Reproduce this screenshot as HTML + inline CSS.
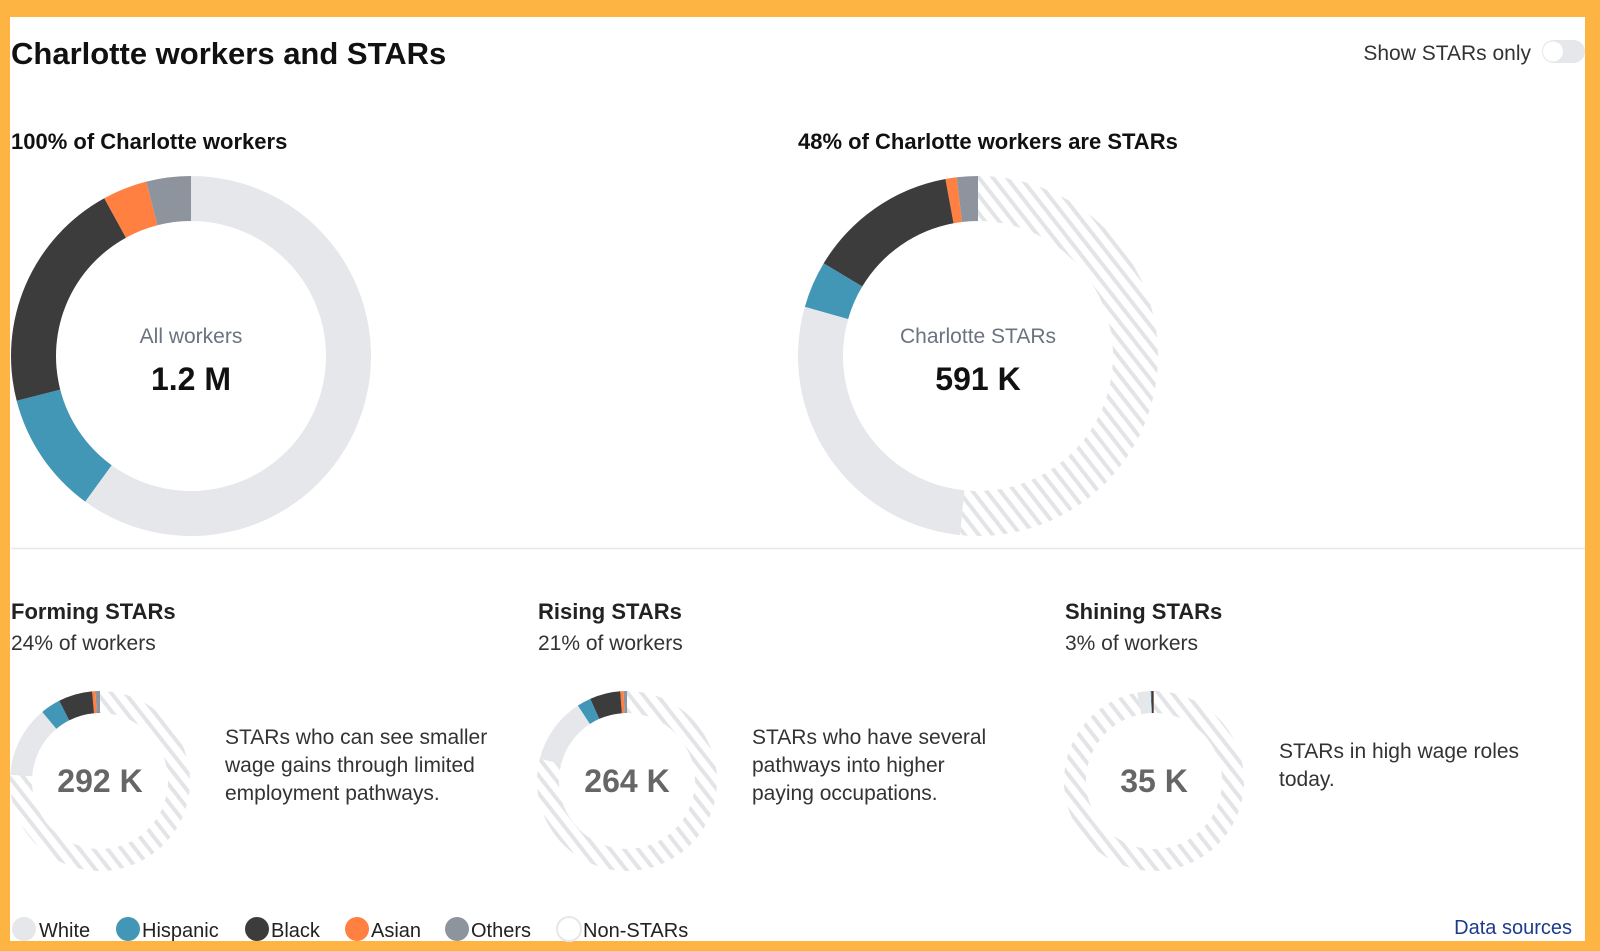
<!DOCTYPE html>
<html><head><meta charset="utf-8"><style>
html,body{margin:0;padding:0;width:1600px;height:951px;overflow:hidden;background:#fdb443;font-family:"Liberation Sans",sans-serif}
svg{display:block}
</style></head><body>
<svg id="c" width="1600" height="951" xmlns="http://www.w3.org/2000/svg">
<defs>
<pattern id="hatch" width="11" height="11" patternUnits="userSpaceOnUse" patternTransform="rotate(-38)">
<rect width="11" height="11" fill="#fff"/><rect width="4" height="11" fill="#e3e4e7"/>
</pattern>
</defs>
<rect x="10" y="17" width="1575" height="924" fill="#fff"/>
<text x="11" y="64" font-size="31" font-weight="600" fill="#111">Charlotte workers and STARs</text>
<text x="1531" y="60" font-size="21" fill="#333" text-anchor="end">Show STARs only</text>
<g>
<rect x="1542" y="40" width="43" height="23" rx="11.5" fill="#e5e7eb"/>
<circle cx="1553" cy="51.5" r="10" fill="#fff"/>
</g>
<text x="11" y="149" font-size="22" font-weight="600" fill="#111">100% of Charlotte workers</text>
<text x="798" y="149" font-size="22" font-weight="600" fill="#111">48% of Charlotte workers are STARs</text>
<line x1="11" y1="548.5" x2="1585" y2="548.5" stroke="#e5e7eb" stroke-width="1.5"/>
<g id="donuts"></g>
<g font-size="20" fill="#222">
<g><circle cx="24" cy="929" r="12" fill="#e5e7eb"/><text x="39" y="937">White</text></g>
<g><circle cx="128" cy="929" r="12" fill="#4197b5"/><text x="142" y="937">Hispanic</text></g>
<g><circle cx="257" cy="929" r="12" fill="#3c3c3c"/><text x="271" y="937">Black</text></g>
<g><circle cx="357" cy="929" r="12" fill="#ff8040"/><text x="371" y="937">Asian</text></g>
<g><circle cx="457" cy="929" r="12" fill="#8e949e"/><text x="471" y="937">Others</text></g>
<g><circle cx="569" cy="929" r="12" fill="#fff" stroke="#e5e7eb" stroke-width="2"/><text x="583" y="937">Non-STARs</text></g>
</g>
<text x="1572" y="934" font-size="20" fill="#1e3a8a" text-anchor="end">Data sources</text>
</svg>
<script>
// Segment values in % of all Charlotte workers: White, Hispanic, Black, Asian, Others
const groups = ['White','Hispanic','Black','Asian','Others'];
const allWorkers = [60, 11, 21, 4, 4];
const allStars = [27.8, 4.2, 13.5, 1.0, 1.9];
const forming = [12.8, 3.6, 6.1, 0.6, 0.8];
const rising = [11.8, 2.5, 5.5, 0.6, 0.6];
const shining = [2.4, 0.1, 0.4, 0.05, 0.05];
const centerLabels = ['All workers','Charlotte STARs','','',''];
const centerValues = ['1.2 M','591 K','292 K','264 K','35 K'];
const tierTitles = ['Forming STARs','Rising STARs','Shining STARs'];
const tierShares = ['24% of workers','21% of workers','3% of workers'];
const tierDescs = [['STARs who can see smaller','wage gains through limited','employment pathways.'],['STARs who have several','pathways into higher','paying occupations.'],['STARs in high wage roles','today.']];

const colors = ['#e5e7eb','#4197b5','#3c3c3c','#ff8040','#8e949e'];
const NS = 'http://www.w3.org/2000/svg';
const root = document.getElementById('donuts');
function angle(pct){ return pct/100*2*Math.PI; }
function arc(cx,cy,r0,r1,a0,a1){
  const p=(r,a)=>[cx+r*Math.sin(a), cy-r*Math.cos(a)];
  const large = Math.abs(a1-a0)>Math.PI?1:0;
  const sw = a1>a0?1:0;
  const [x1,y1]=p(r1,a0),[x2,y2]=p(r1,a1),[x3,y3]=p(r0,a1),[x4,y4]=p(r0,a0);
  return `M${x1},${y1}A${r1},${r1} 0 ${large} ${sw} ${x2},${y2}L${x3},${y3}A${r0},${r0} 0 ${large} ${1-sw} ${x4},${y4}Z`;
}
function mk(tag, attrs, parent){ const e=document.createElementNS(NS,tag); for(const k in attrs) e.setAttribute(k,attrs[k]); parent.appendChild(e); return e; }

// vals: percents; stars mode draws colored part counter-clockwise from top in order Others..White, rest hatched
function donut(name, cx, cy, r0, r1, vals, starsMode){
  const g = mk('g',{},root);
  
  
  if(!starsMode){
    let a=0;
    vals.forEach((v,i)=>{
      const p = mk('path',{d:arc(cx,cy,r0,r1,angle(a),angle(a+v)),fill:colors[i]},g);
      
      
      a+=v;
    });
  } else {
    const total = vals.reduce((s,v)=>s+v,0);
    const h = mk('path',{d:arc(cx,cy,r0,r1,0,angle(100-total)),fill:'url(#hatch)'},g);
    
    
    let a=100;
    for(let i=vals.length-1;i>=0;i--){
      const v=vals[i];
      const p = mk('path',{d:arc(cx,cy,r0,r1,angle(a),angle(a-v)),fill:colors[i]},g);
      
      
      a-=v;
    }
  }
  return g;
}
function txt(s,x,y,size,weight,fill,name,anchor){
  const t=mk('text',{x:x,y:y,'font-size':size,'font-weight':weight,fill:fill,'text-anchor':anchor||'start'},root);
  t.textContent=s;
  
  
  return t;
}
donut('all-workers-donut',191,356,135,180,allWorkers,false);
txt(centerLabels[0],191,343,21,'normal','#6b7280','all-workers-label','middle');
txt(centerValues[0],191,390,32,'600','#111','all-workers-value','middle');
donut('stars-donut',978,356,135,180,allStars,true);
txt(centerLabels[1],978,343,21,'normal','#6b7280','stars-label','middle');
txt(centerValues[1],978,390,32,'600','#111','stars-value','middle');

const tiers=[forming,rising,shining];
const tierX=[11,538,1065];
tiers.forEach((vals,i)=>{
  const x=tierX[i];
  const slug=tierTitles[i].split(' ')[0].toLowerCase();
  txt(tierTitles[i],x,619,22,'600','#222',slug+'-title');
  txt(tierShares[i],x,650,21,'normal','#333',slug+'-share');
  donut(slug+'-donut',x+89,781,68,90,vals,true);
  txt(centerValues[i+2],x+89,792,32,'600','#666',slug+'-value','middle');
  const d=tierDescs[i];
  const y0 = d.length===3?744:758;
  d.forEach((line,j)=>txt(line,x+214,y0+j*28,21,'normal','#333',slug+'-description-line-'+(j+1)));
});
</script>
</body></html>
